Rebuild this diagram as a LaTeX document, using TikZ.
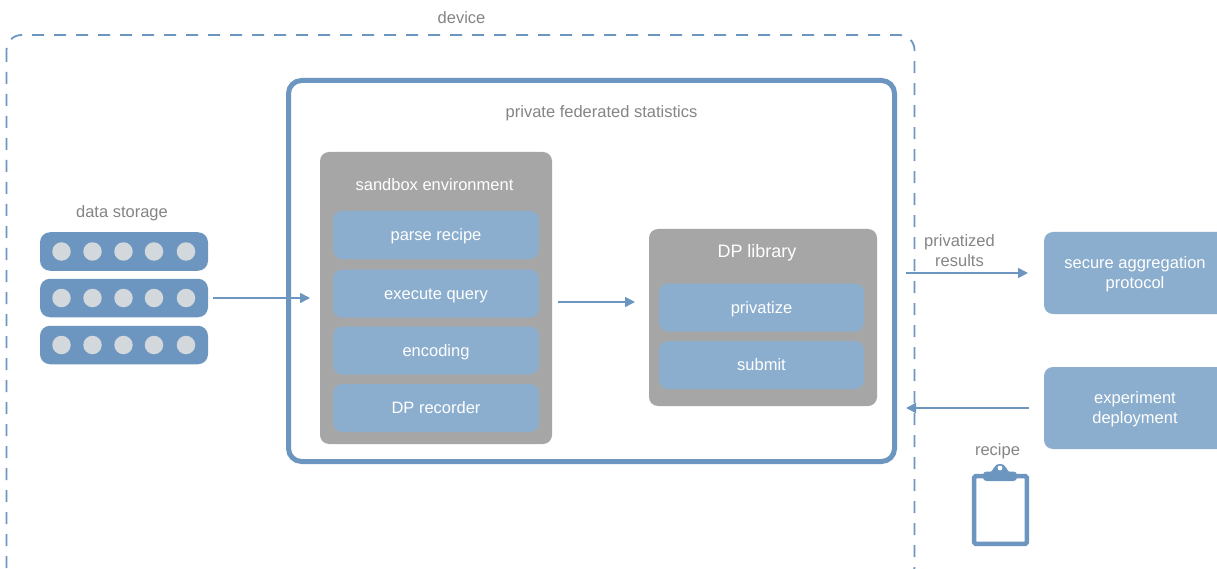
\documentclass[tikz,border=0pt]{standalone}
\usepackage{fontspec}
\setmainfont{Liberation Sans}
\usetikzlibrary{arrows.meta}
\definecolor{bluedark}{HTML}{6C96C0}
\definecolor{bluelight}{HTML}{8BAECE}
\definecolor{greybox}{HTML}{A6A6A6}
\definecolor{greytext}{HTML}{858585}
\definecolor{dotgrey}{HTML}{D2D8DC}
\newcommand{\st}{\rule[-3.5pt]{0pt}{18pt}}
\tikzset{
  box/.style={rectangle,inner sep=0pt,outer sep=0pt,anchor=center},
  label/.style={text=greytext,font=\fontsize{16.5}{20}\selectfont,align=center,inner sep=0pt},
  whitelabel/.style={text=white,font=\fontsize{16.5}{20}\selectfont,align=center,inner sep=0pt},
  item/.style={box,fill=bluelight,rounded corners=9pt,text=white,font=\fontsize{16.5}{20}\selectfont,align=center},
  greypanel/.style={box,fill=greybox,rounded corners=9pt},
  row/.style={box,fill=bluedark,rounded corners=10pt,minimum width=168pt,minimum height=38.5pt},
  dot/.style={circle,fill=dotgrey,inner sep=0pt,minimum size=18.5pt},
  conn/.style={draw=bluedark,line width=1.6pt,-{Triangle[length=10pt,width=10pt]}}
}
\begin{document}
\begin{tikzpicture}[x=1pt,y=-1pt]
\path[use as bounding box,clip] (0,0) rectangle (1217,569);
\fill[white] (0,0) rectangle (1217,569);
% device
\draw[bluedark,line width=1.8pt,dash pattern=on 12pt off 10pt,rounded corners=15pt] (6.5,35) rectangle (914.5,582);
\node[label] (devicelabel) at (461.5,18) {device};
% private box
\node[box,draw=bluedark,line width=5pt,rounded corners=13pt,minimum width=606pt,minimum height=381pt] (pfs) at (591.5,271) {};
\node[label] (pfslabel) at (601.5,113) {private federated statistics};
% data storage
\node[label] (dslabel) at (122,213.5) {data storage};
\foreach \n/\y in {a/251.5,b/298,c/345}{
  \node[row] (row\n) at (124,\y) {};
  \foreach \i/\x in {1/61.5,2/92.5,3/123.5,4/154,5/186}{
    \node[dot] (dot\n\i) at (\x,\y) {};
  }
}
% sandbox
\node[greypanel,minimum width=232pt,minimum height=292pt] (sandbox) at (436,298) {};
\node[whitelabel] (sandboxlabel) at (434.5,184.5) {sandbox environment};
\node[item,minimum width=206pt,minimum height=48pt] (parse) at (436,235) {\st parse recipe};
\node[item,minimum width=206pt,minimum height=48pt] (exec) at (436,293.5) {\st execute query};
\node[item,minimum width=206pt,minimum height=48pt] (enc) at (436,350.5) {\st encoding};
\node[item,minimum width=206pt,minimum height=48pt] (rec) at (436,408) {\st DP recorder};
% DP library
\node[greypanel,minimum width=228pt,minimum height=177pt] (dplib) at (763,317.5) {};
\node[whitelabel,font=\fontsize{18}{22}\selectfont] (dplabel) at (757,253) {DP library};
\node[item,minimum width=205pt,minimum height=48pt] (priv) at (761.5,307.5) {\st privatize};
\node[item,minimum width=205pt,minimum height=48pt] (submit) at (761.5,365) {\st submit};
% right boxes
\node[item,minimum width=182pt,minimum height=82pt] (secure) at (1135,273) {\st secure aggregation\\protocol};
\node[item,minimum width=182pt,minimum height=82pt] (deploy) at (1135,408) {\st experiment\\deployment};
% connectors
\coordinate (a1) at (213,298); \coordinate (a2) at (310,298);
\coordinate (b1) at (558,302); \coordinate (b2) at (635,302);
\coordinate (c1) at (906,273); \coordinate (c2) at (1028,273);
\coordinate (d1) at (1029,408); \coordinate (d2) at (906,408);
\draw[conn] (a1) -- (a2);
\draw[conn] (b1) -- (b2);
\draw[conn] (c1) -- (c2);
\draw[conn] (d1) -- (d2);
\node[label] (privres) at (959.5,250.5) {privatized\\results};
% recipe
\node[label] (recipelabel) at (997.5,451) {recipe};
\draw[bluedark,line width=4.5pt,rounded corners=1.5pt] (974.2,476.2) rectangle (1026.8,543.8);
\fill[bluedark,rounded corners=3.5pt] (983,481) -- (983,471.5) -- (1017,471.5) -- (1017,481) -- cycle;
\fill[bluedark] (989,473) .. controls (994,471.5) and (993,464) .. (1000,464) .. controls (1007,464) and (1006,471.5) .. (1011,473) -- cycle;
\fill[white] (1000,468) circle (2.4pt);
\end{tikzpicture}
\end{document}
